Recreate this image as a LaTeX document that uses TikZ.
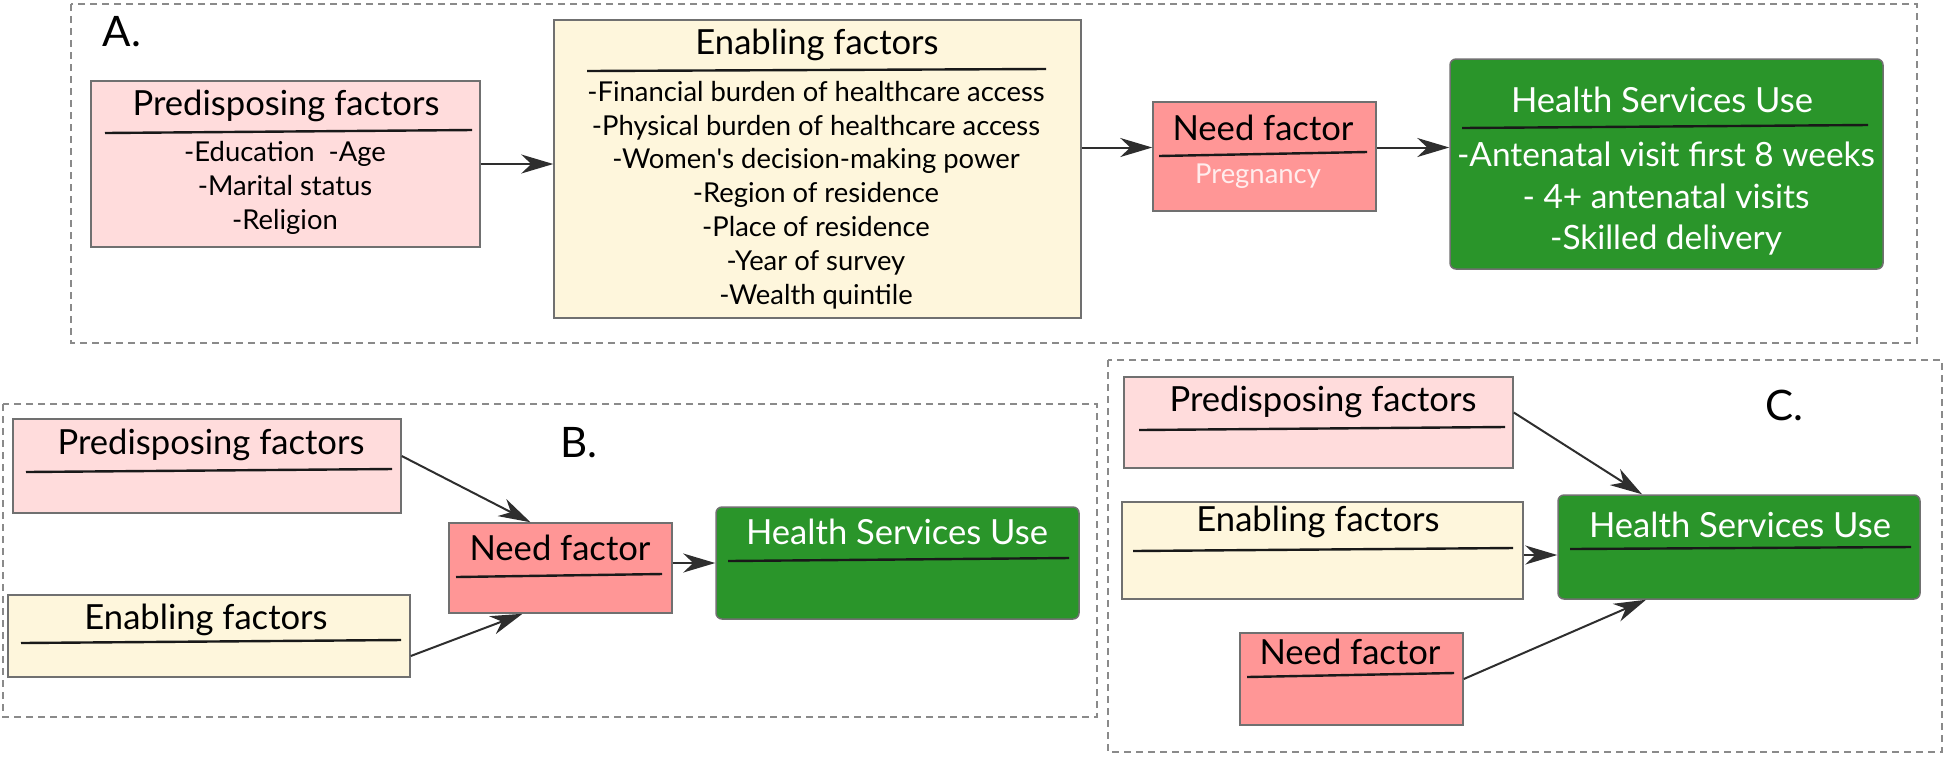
\documentclass[tikz,border=0pt]{standalone}
\usepackage{fontspec}
\setmainfont{Lato}
\usetikzlibrary{fit,arrows.meta}
\definecolor{predfill}{HTML}{FFDCDC}
\definecolor{enabfill}{HTML}{FEF6DC}
\definecolor{needfill}{HTML}{FF9696}
\definecolor{hsufill}{HTML}{2A952A}
\definecolor{edgecol}{HTML}{707070}
\definecolor{framecol}{HTML}{8A8A8A}
\definecolor{arrcol}{HTML}{2E2E2E}
\definecolor{pregcol}{HTML}{FFEDED}
\begin{document}
\begin{tikzpicture}[x=0.5pt, y=-0.5pt,
    >={Stealth[length=16pt,width=9.5pt,inset=5pt]},
    box/.style={draw=edgecol, line width=0.75pt, inner sep=0pt},
    predbox/.style={box, fill=predfill},
    enabbox/.style={box, fill=enabfill},
    needbox/.style={box, fill=needfill},
    hsubox/.style={box, fill=hsufill, rounded corners=3pt},
    title/.style={inner sep=0pt, font=\fontsize{17.3}{20}\selectfont},
    items/.style={inner sep=0pt, align=center, font=\fontsize{13.7}{16.9}\selectfont},
    ruleline/.style={line width=1.2pt, draw=black!90},
    panelframe/.style={draw=framecol, line width=0.75pt, dash pattern=on 3.5pt off 2.5pt},
    panel/.style={inner sep=0pt, font=\fontsize{21}{24}\selectfont},
    arr/.style={->, draw=arrcol, line width=1pt}]
    \useasboundingbox (0,0) rectangle (1946,757);
    \draw[panelframe] (71,4) rectangle (1917,343);
    \draw[panelframe] (3,404) rectangle (1097,717);
    \draw[panelframe] (1108,360) rectangle (1942,752);
    \node[panel] (labA) at (122,32) {A.};
    \node[panel] (labB) at (579,443) {B.};
    \node[panel] (labC) at (1784,405) {C.};

    \node[predbox, fit={(91,81) (480,247)}] (predA) {};
    \node[title] (predAt) at (286,106) {Predisposing factors};
    \draw[ruleline] (105,133) -- (472,130);
    \node[items] (predAi) at (285,188) {-Education\ \ -Age\\-Marital status\\-Religion};
    \node[enabbox, fit={(554,20) (1081,318)}] (enabA) {};
    \node[title] (enabAt) at (817,45) {Enabling factors};
    \draw[ruleline] (587,71) -- (1046,69);
    \node[items] (enabAi) at (816,195) {-Financial burden of healthcare access\\-Physical burden of healthcare access\\-Women\textquotesingle s decision-making power\\-Region of residence\\-Place of residence\\-Year of survey\\-Wealth quintile};
    \node[needbox, fit={(1153,102) (1376,211)}] (needA) {};
    \node[title] (needAt) at (1263,128) {Need factor};
    \draw[ruleline] (1159,156) -- (1367,152);
    \node[items, text=pregcol] (needAi) at (1258,176) {Pregnancy};
    \node[hsubox, fit={(1450,59) (1883,269)}] (hsuA) {};
    \node[title, text=white] (hsuAt) at (1662,100) {Health Services Use};
    \draw[ruleline] (1462,128) -- (1868,125);
    \node[items, text=white, font=\fontsize{16.7}{20.75}\selectfont] (hsuAi) at (1666,199) {-Antenatal visit first 8 weeks\\- 4+ antenatal visits\\-Skilled delivery};
    \coordinate (aIn) at ([yshift=4.5pt]needA.west);
    \draw[arr] (predA.east) -- (predA.east -| enabA.west);
    \draw[arr] (aIn -| enabA.east) -- (aIn);
    \draw[arr] (aIn -| needA.east) -- (aIn -| hsuA.west);

    \node[predbox, fit={(13,419) (401,513)}] (predB) {};
    \node[title] (predBt) at (211,445) {Predisposing factors};
    \draw[ruleline] (26,472) -- (392,469);
    \node[needbox, fit={(449,523) (672,613)}] (needB) {};
    \node[title] (needBt) at (560,548) {Need factor};
    \draw[ruleline] (456,577) -- (662,574);
    \node[enabbox, fit={(8,595) (410,677)}] (enabB) {};
    \node[title] (enabBt) at (206,620) {Enabling factors};
    \draw[ruleline] (21,643) -- (401,640);
    \node[hsubox, fit={(716,507) (1079,619)}] (hsuB) {};
    \node[title, text=white] (hsuBt) at (897,532) {Health Services Use};
    \draw[ruleline] (728,561) -- (1069,558);
    \draw[arr] ([yshift=5pt]predB.east) -- ([xshift=-15pt]needB.north);
    \draw[arr] ([yshift=-10pt]enabB.east) -- ([xshift=-19pt]needB.south);
    \draw[arr] (hsuB.west -| needB.east) -- (hsuB.west);

    \node[predbox, fit={(1124,377) (1513,468)}] (predC) {};
    \node[title] (predCt) at (1323,402) {Predisposing factors};
    \draw[ruleline] (1139,430) -- (1505,427);
    \node[enabbox, fit={(1122,502) (1523,599)}] (enabC) {};
    \node[title] (enabCt) at (1318,522) {Enabling factors};
    \draw[ruleline] (1133,551) -- (1513,548);
    \node[needbox, fit={(1240,633) (1463,725)}] (needC) {};
    \node[title] (needCt) at (1350,652) {Need factor};
    \draw[ruleline] (1247,677) -- (1454,673);
    \node[hsubox, fit={(1558,495) (1920,599)}] (hsuC) {};
    \node[title, text=white] (hsuCt) at (1740,525) {Health Services Use};
    \draw[ruleline] (1570,549) -- (1911,547);
    \coordinate (cIn) at ([yshift=-4pt]hsuC.west);
    \draw[arr] ([yshift=5pt]predC.east) -- ([xshift=-48.5pt]hsuC.north);
    \draw[arr] (cIn -| enabC.east) -- (cIn);
    \draw[arr] (needC.east) -- ([xshift=-46.5pt]hsuC.south);
\end{tikzpicture}
\end{document}
